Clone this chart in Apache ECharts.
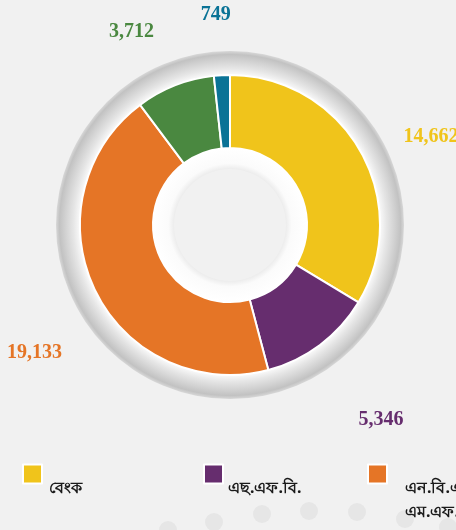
<!DOCTYPE html>
<html>
<head>
<meta charset="utf-8">
<script src="https://cdn.jsdelivr.net/npm/echarts@6/dist/echarts.min.js"></script>
<style>
  html, body { margin: 0; padding: 0; background: #f1f1f1; }
  #chart { width: 456px; height: 530px; }
</style>
</head>
<body>
<div id="chart"></div>
<script>
const categories = ['বেংক', 'এছ.এফ.বি.', 'এন.বি.এফ.আই./এম.এফ.আই.', 'আৰ.আৰ.বি.', 'সমবায় বেংক']
const values = [14662, 5346, 19133, 3712, 749]
const palette = ['#f0c41b', '#662d6e', '#e57526', '#4a8840', '#0a7396']

// label placement: distance from centre along the slice middle, then a small nudge
const labelReach = 225
const labelNudge = [[5, 23], [16, 15], [7, 30], [-16, 16], [-2, 15]]
const legendTextWidth = [156, 139, 200, 160, 160]
const legendTextIndent = [2, 0, 13, 2, 2]

const chart = echarts.init(document.getElementById('chart'))

const ring = (inner, outer, stops) => ({
  type: 'pie',
  silent: true,
  center: [230, 225],
  radius: [inner, outer],
  label: { show: false },
  labelLine: { show: false },
  z: 1,
  data: [{
    value: 1,
    name: '',
    itemStyle: {
      color: new echarts.graphic.RadialGradient(0.5, 0.5, 0.5, stops)
    }
  }]
})

const dots = [[168, 530], [214, 522], [262, 514], [309, 511], [357, 512], [405, 519], [448, 527]]

// spacer tokens push the legend text below the swatch and fix each item's width
const legendRich = {}
legendTextWidth.forEach((w, i) => {
  legendRich['a' + i] = { width: w, height: 28, lineHeight: 28, fontSize: 2 }
  legendRich['b' + i] = { width: w, height: 52, lineHeight: 52, fontSize: 2 }
  legendRich['t' + i] = {
    color: '#1a1a1a',
    fontFamily: 'Noto Sans',
    fontSize: 16,
    fontWeight: 'bold',
    lineHeight: 24,
    padding: [0, 0, 0, legendTextIndent[i]]
  }
})

chart.setOption({
  backgroundColor: '#f1f1f1',
  color: palette,
  graphic: dots.map(d => ({
    type: 'circle',
    z: -10,
    silent: true,
    shape: { cx: d[0], cy: d[1], r: 9 },
    style: { fill: '#e6e6e6' }
  })),
  legend: {
    left: 22,
    top: 424,
    padding: 0,
    width: 1200,
    itemWidth: 19,
    itemHeight: 19,
    itemGap: 0,
    icon: 'rect',
    selectedMode: false,
    formatter: name => {
      const i = categories.indexOf(name)
      const lines = name.split('/')
      if (lines.length > 1) {
        return '{b' + i + '| }\n{t' + i + '|' + lines[0] + '/}\n{t' + i + '|' + lines[1] + '}'
      }
      return '{a' + i + '| }\n{t' + i + '|' + name + '}'
    },
    textStyle: {
      color: '#1a1a1a',
      fontFamily: 'Noto Sans',
      fontSize: 16,
      fontWeight: 'bold',
      rich: legendRich
    },
    data: categories
  },
  series: [
    ring(150, 174, [
      { offset: 0.86, color: '#fbfbfb' },
      { offset: 0.9, color: '#e6e6e6' },
      { offset: 0.95, color: '#d0d0d0' },
      { offset: 0.98, color: '#c2c2c2' },
      { offset: 1, color: '#d8d8d8' }
    ]),
    ring(56, 77, [
      { offset: 0.72, color: '#ebebeb' },
      { offset: 0.8, color: '#fbfbfb' },
      { offset: 1, color: '#ffffff' }
    ]),
    {
      type: 'pie',
      center: [230, 225],
      radius: [77, 150],
      startAngle: 90,
      clockwise: true,
      avoidLabelOverlap: false,
      z: 3,
      itemStyle: { borderColor: '#ffffff', borderWidth: 2 },
      emphasis: { scale: false },
      label: {
        show: true,
        position: 'outside',
        fontFamily: 'Liberation Serif',
        fontWeight: 'bold',
        fontSize: 20,
        formatter: p => p.value.toLocaleString('en-US')
      },
      labelLine: { show: true, length: 10, length2: 0, lineStyle: { opacity: 0 } },
      labelLayout: params => {
        const pts = params.labelLinePoints
        if (!pts) return {}
        const ux = pts[1][0] - pts[0][0]
        const uy = pts[1][1] - pts[0][1]
        const len = Math.hypot(ux, uy) || 1
        const cx = pts[0][0] - ux / len * 150
        const cy = pts[0][1] - uy / len * 150
        const n = labelNudge[params.dataIndex]
        return {
          x: cx + ux / len * labelReach + n[0],
          y: cy + uy / len * labelReach + n[1],
          align: 'center',
          verticalAlign: 'middle'
        }
      },
      data: categories.map((name, i) => ({
        name,
        value: values[i],
        label: { color: palette[i] }
      }))
    }
  ]
})

window.addEventListener('resize', () => chart.resize())
</script>
</body>
</html>
